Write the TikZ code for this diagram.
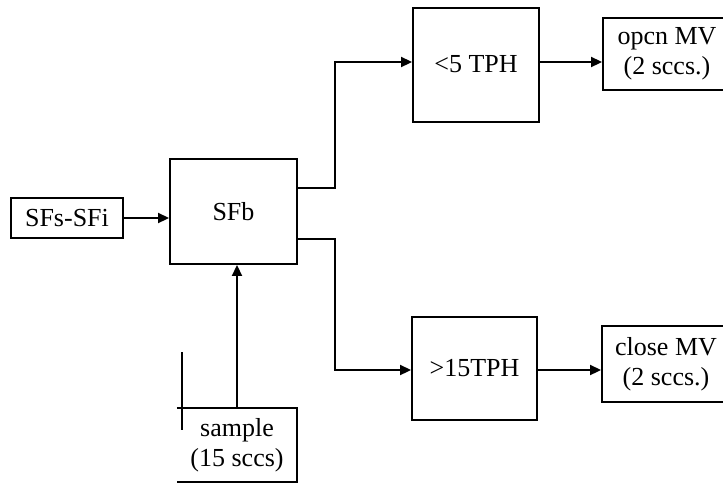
\documentclass[tikz,border=0pt]{standalone}
\usepackage{fontspec}
\setmainfont{Liberation Serif}
\usetikzlibrary{arrows.meta,calc}
\begin{document}
\begin{tikzpicture}[x=1pt,y=-1pt,
  every node/.style={font=\fontsize{26}{30}\selectfont, inner sep=0pt},
  blk/.style={draw, line width=1.9pt, rectangle, align=center},
  wire/.style={line width=1.9pt},
  arr/.style={wire, -{Triangle[length=11pt,width=10pt]}}]
\useasboundingbox (0,0) rectangle (723,483);
\clip (0,0) rectangle (723,483);
\node[blk, minimum width=112pt, minimum height=40pt] (sfs) at (67,218) {SFs-SFi};
\node[blk, minimum width=127pt, minimum height=105pt] (sfb) at (233.5,211.5) {SFb};
\node[blk, minimum width=126pt, minimum height=114pt] (lt5) at (476,65) {\raisebox{3pt}{<5 TPH}};
\node[blk, minimum width=125pt, minimum height=103pt] (gt15) at (474.5,368.5) {>15TPH};
\node[blk, minimum width=128pt, minimum height=72pt] (open) at (667,54) {opcn MV\\(2 sccs.)};
\node[blk, minimum width=128pt, minimum height=76pt] (close) at (666,364) {close MV\\(2 sccs.)};
\node[align=center, minimum width=120pt, minimum height=74pt] (sample) at (237,445) {sample\\(15 sccs)};
% sample box outline (left side open)
\draw[wire] (sample.north west) -- (sample.north east) -- (sample.south east) -- (sample.south west);
\coordinate (sl1) at (182,352);
\coordinate (sl2) at (182,430);
\draw[wire] (sl1) -- (sl2);
% connectors
\draw[arr] (sfs.east) -- (sfb.west |- sfs.east);
\coordinate (u0) at (297,188);
\coordinate (u1) at (335,188);
\coordinate (u2) at (335,62);
\draw[arr] (u0) -- (u1) -- (u2) -- (lt5.west |- u2);
\coordinate (d0) at (297,239);
\coordinate (d1) at (335,239);
\coordinate (d2) at (335,370);
\draw[arr] (d0) -- (d1) -- (d2) -- (gt15.west |- d2);
\draw[arr] (lt5.east |- u2) -- (open.west |- u2);
\draw[arr] (gt15.east |- d2) -- (close.west |- d2);
\draw[arr] (sample.north) -- (sfb.south -| sample.north);
\end{tikzpicture}
\end{document}
